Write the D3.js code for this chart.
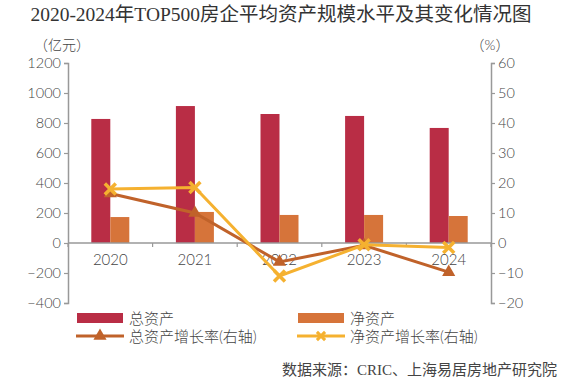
<!DOCTYPE html>
<html>
<head>
<meta charset="utf-8">
<script src="https://cdn.jsdelivr.net/npm/d3@7"></script>
<style>
  body { margin: 0; background: #fff; }
  svg text { font-family: "Lato", "Noto Sans CJK SC", sans-serif; font-weight: 300; }
</style>
</head>
<body>
<div id="chart"></div>
<script>
const years = ["2020", "2021", "2022", "2023", "2024"];
const totalAssets = [827, 913, 860, 847, 767];
const netAssets = [173, 207, 187, 187, 180];
const totalGrowth = [16.5, 10, -6.3, -0.8, -9.7];
const netGrowth = [18, 18.5, -11, -0.6, -1.5];
const leftTicks = [-400, -200, 0, 200, 400, 600, 800, 1000, 1200];
const rightTicks = [-20, -10, 0, 10, 20, 30, 40, 50, 60];

const W = 562, H = 383;
const C = { total: "#b92d45", net: "#d6743a", tg: "#c0622a", ng: "#f5b130", axis: "#999", text: "#444" };

const svg = d3.select("#chart").append("svg").attr("width", W).attr("height", H);

svg.append("text")
  .attr("x", W / 2).attr("y", 21)
  .attr("text-anchor", "middle")
  .style("font-family", "'Liberation Serif', 'Noto Sans CJK SC', serif")
  .style("font-weight", "400")
  .style("font-size", "19.5px").attr("fill", "#333")
  .text("2020-2024年TOP500房企平均资产规模水平及其变化情况图");

const x0 = 68, x1 = 491;
const x = d3.scaleBand().domain(years).range([x0, x1]);
const yL = d3.scaleLinear().domain([-400, 1200]).range([303, 63]);
const yR = d3.scaleLinear().domain([-20, 60]).range([303, 63]);
const bw = 19;

// unit labels
svg.append("text").attr("x", 62).attr("y", 50).attr("text-anchor", "middle")
  .style("font-size", "14px").attr("fill", C.text).text("（亿元）");
svg.append("text").attr("x", 490).attr("y", 50).attr("text-anchor", "middle")
  .style("font-size", "14px").attr("fill", C.text).text("（%）");

// left axis
const gl = svg.append("g").attr("transform", `translate(${x0},0)`)
  .call(d3.axisLeft(yL).tickValues(leftTicks).tickFormat(d3.format("d")).tickSize(4).tickPadding(3));
// right axis
const gr = svg.append("g").attr("transform", `translate(${x1},0)`)
  .call(d3.axisRight(yR).tickValues(rightTicks).tickFormat(d3.format("d")).tickSize(4).tickPadding(3));
[gl, gr].forEach(g => {
  g.select(".domain").attr("stroke", C.axis).attr("stroke-width", 1.5);
  g.selectAll(".tick line").attr("stroke", C.axis).attr("stroke-width", 1.2);
  g.selectAll(".tick text").attr("fill", C.text).style("font-size", "14.5px")
    .style("font-family", "Lato, sans-serif");
});

// bars
svg.append("g").selectAll("rect").data(years).join("rect")
  .attr("x", (d) => x(d) + x.bandwidth() / 2 - bw)
  .attr("y", (d, i) => yL(totalAssets[i]))
  .attr("width", bw)
  .attr("height", (d, i) => yL(0) - yL(totalAssets[i]))
  .attr("fill", C.total);
svg.append("g").selectAll("rect").data(years).join("rect")
  .attr("x", (d) => x(d) + x.bandwidth() / 2)
  .attr("y", (d, i) => yL(netAssets[i]))
  .attr("width", bw)
  .attr("height", (d, i) => yL(0) - yL(netAssets[i]))
  .attr("fill", C.net);

// x axis at zero
svg.append("line").attr("x1", x0).attr("x2", x1).attr("y1", yL(0)).attr("y2", yL(0))
  .attr("stroke", C.axis).attr("stroke-width", 1.5);
svg.append("g").selectAll("line").data(d3.range(years.length + 1)).join("line")
  .attr("x1", i => x0 + i * x.step()).attr("x2", i => x0 + i * x.step())
  .attr("y1", yL(0)).attr("y2", yL(0) + 4)
  .attr("stroke", C.axis).attr("stroke-width", 1.2);
svg.append("g").selectAll("text").data(years).join("text")
  .attr("x", d => x(d) + x.bandwidth() / 2).attr("y", yL(0) + 22)
  .attr("text-anchor", "middle").attr("fill", C.text)
  .style("font-size", "15px").text(d => d);

// lines
const cx = d => x(d) + x.bandwidth() / 2;
const tri = d3.symbol().type(d3.symbolTriangle).size(75);
const cross = d3.symbol().type(d3.symbolX).size(80);

svg.append("path")
  .attr("d", d3.line().x((d, i) => cx(years[i])).y(d => yR(d))(totalGrowth))
  .attr("fill", "none").attr("stroke", C.tg).attr("stroke-width", 3);
svg.append("g").selectAll("path").data(totalGrowth).join("path")
  .attr("transform", (d, i) => `translate(${cx(years[i])},${yR(d)})`)
  .attr("d", tri).attr("fill", C.tg);

svg.append("path")
  .attr("d", d3.line().x((d, i) => cx(years[i])).y(d => yR(d))(netGrowth))
  .attr("fill", "none").attr("stroke", C.ng).attr("stroke-width", 3);
svg.append("g").selectAll("path").data(netGrowth).join("path")
  .attr("transform", (d, i) => `translate(${cx(years[i])},${yR(d)})`)
  .attr("d", cross).attr("fill", "none").attr("stroke", C.ng).attr("stroke-width", 3.5);

// legend
const lg = svg.append("g").style("font-size", "15px");
const items = [
  { kind: "rect", color: C.total, label: "总资产", x: 77, y: 318 },
  { kind: "rect", color: C.net, label: "净资产", x: 298, y: 318 },
  { kind: "tri", color: C.tg, label: "总资产增长率(右轴)", x: 77, y: 336 },
  { kind: "x", color: C.ng, label: "净资产增长率(右轴)", x: 298, y: 336 }
];
items.forEach(it => {
  if (it.kind === "rect") {
    lg.append("rect").attr("x", it.x).attr("y", it.y - 5).attr("width", 46).attr("height", 10).attr("fill", it.color);
  } else {
    lg.append("line").attr("x1", it.x - 1).attr("x2", it.x + 47).attr("y1", it.y).attr("y2", it.y)
      .attr("stroke", it.color).attr("stroke-width", 3);
    const m = lg.append("path").attr("transform", `translate(${it.x + 23},${it.y})`);
    if (it.kind === "tri") m.attr("d", tri).attr("fill", it.color);
    else m.attr("d", d3.symbol().type(d3.symbolX).size(45)).attr("fill", "none")
      .attr("stroke", it.color).attr("stroke-width", 3);
  }
  lg.append("text").attr("x", it.x + 52).attr("y", it.y + 5.5).attr("fill", C.text).text(it.label);
});

svg.append("text").attr("x", 557).attr("y", 375).attr("text-anchor", "end")
  .style("font-family", "'Liberation Serif', 'Noto Sans CJK SC', serif")
  .style("font-weight", "400")
  .style("font-size", "15px").attr("fill", C.text)
  .text("数据来源：CRIC、上海易居房地产研究院");
</script>
</body>
</html>
